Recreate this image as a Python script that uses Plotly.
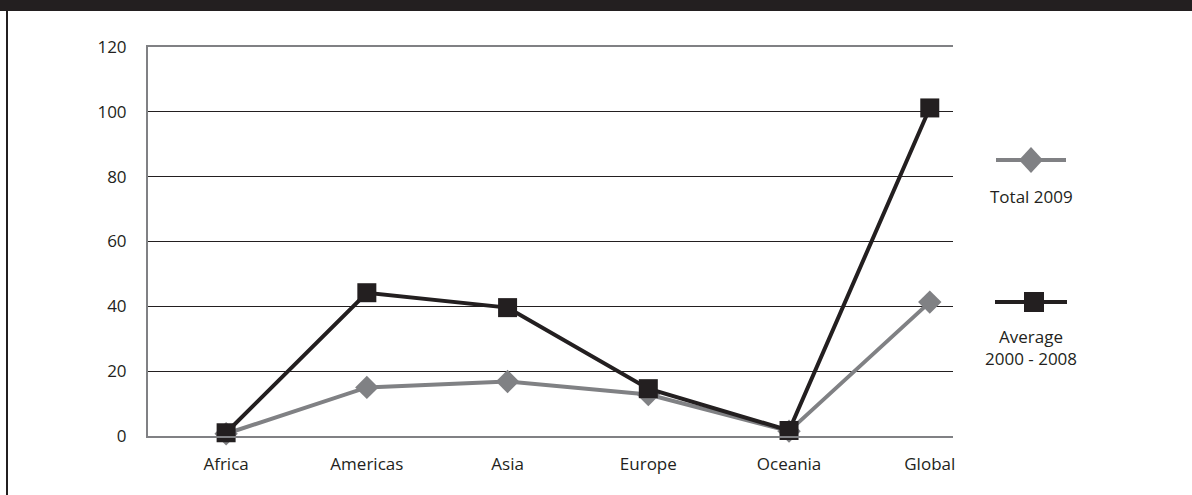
import plotly.graph_objects as go

categories = ["Africa", "Americas", "Asia", "Europe", "Oceania", "Global"]
total_2009 = [0.7, 15.0, 16.8, 12.8, 1.5, 41.3]
average_2000_2008 = [1.0, 44.2, 39.6, 14.6, 1.7, 101.2]
y_ticks = [0, 20, 40, 60, 80, 100, 120]

W, H = 1192, 495
ML, MR, MT, MB = 148, W - 953, 47, H - 436
PW, PH = W - ML - MR, H - MT - MB

DARK = "#231f20"
GRAY = "#808184"
FONT = "Open Sans"
FS = 17


def px(x):
    return (x - ML) / PW


def py(y):
    return (H - MB - y) / PH


fig = go.Figure()
fig.add_trace(go.Scatter(
    x=categories, y=total_2009, mode="lines+markers", name="Total 2009",
    line=dict(color=GRAY, width=4),
    marker=dict(symbol="diamond", size=18, color=GRAY),
    cliponaxis=False, showlegend=False,
))
fig.add_trace(go.Scatter(
    x=categories, y=average_2000_2008, mode="lines+markers", name="Average 2000 - 2008",
    line=dict(color=DARK, width=4),
    marker=dict(symbol="square", size=19, color=DARK),
    cliponaxis=False, showlegend=False,
))

shapes = [
    # top dark band
    dict(type="rect", xref="paper", yref="paper", x0=px(-5), x1=px(W + 5), y0=py(-5), y1=py(11),
         fillcolor=DARK, line=dict(width=0), layer="above"),
    # left frame line
    dict(type="line", xref="paper", yref="paper", x0=px(7), x1=px(7), y0=py(11), y1=py(H + 5),
         line=dict(color=DARK, width=2)),
    # legend: Total 2009
    dict(type="line", xref="paper", yref="paper", x0=px(996), x1=px(1066), y0=py(160), y1=py(160),
         line=dict(color=GRAY, width=4)),
    dict(type="path", xref="paper", yref="paper",
         path=f"M {px(1019)},{py(160)} L {px(1031)},{py(147)} L {px(1043)},{py(160)} L {px(1031)},{py(173)} Z",
         fillcolor=GRAY, line=dict(width=0)),
    # legend: Average
    dict(type="line", xref="paper", yref="paper", x0=px(995), x1=px(1067), y0=py(302), y1=py(302),
         line=dict(color=DARK, width=4)),
    dict(type="rect", xref="paper", yref="paper", x0=px(1024), x1=px(1044), y0=py(292), y1=py(312),
         fillcolor=DARK, line=dict(width=0)),
]

annotations = [
    dict(xref="paper", yref="paper", x=px(1031), y=py(196), text="Total 2009", showarrow=False,
         xanchor="center", yanchor="middle", font=dict(family=FONT, size=FS, color=DARK)),
    dict(xref="paper", yref="paper", x=px(1031), y=py(347), text="Average<br>2000 - 2008", showarrow=False,
         xanchor="center", yanchor="middle", align="center",
         font=dict(family=FONT, size=FS, color=DARK)),
]

fig.update_layout(
    width=W, height=H,
    margin=dict(l=ML, r=MR, t=MT, b=MB),
    paper_bgcolor="white", plot_bgcolor="white",
    font=dict(family=FONT, size=FS, color=DARK),
    shapes=shapes, annotations=annotations,
    showlegend=False,
)
fig.update_xaxes(
    type="category", range=[-0.555, 5.165],
    showline=True, linecolor=GRAY, linewidth=2, mirror=True,
    showgrid=False, ticks="", ticklabelstandoff=12,
    tickfont=dict(family=FONT, size=FS, color=DARK),
)
fig.update_yaxes(
    range=[0, 120], tickvals=y_ticks,
    showline=True, linecolor=GRAY, linewidth=2,
    showgrid=True, gridcolor=DARK, gridwidth=1, zeroline=False,
    ticks="", ticklabelstandoff=16,
    tickfont=dict(family=FONT, size=FS, color=DARK),
)

fig.write_html(
    "out.html",
    config={"displayModeBar": False},
    post_script="document.body.style.margin='0';document.body.style.padding='0';",
)
